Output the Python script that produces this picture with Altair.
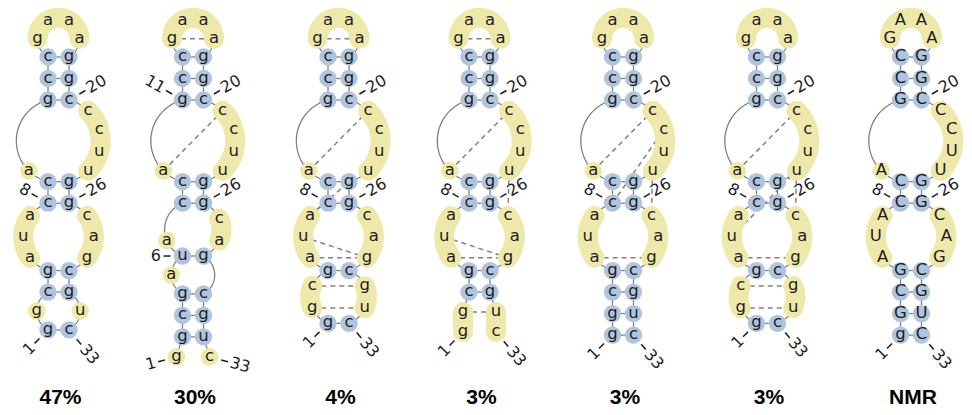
import math
import altair as alt
import pandas as pd

# 33-nt sequence; the NMR model is printed in upper case (first residue lower case)
SEQUENCE = "ggcgauaccagccgaaaggcccuuggcagcguc"
SEQUENCE_NMR = "gGCGAUACCAGCCGAAAGGCCCUUGGCAGCGUC"

CAPTIONS = ["47%", "30%", "4%", "3%", "3%", "3%", "NMR"]

# canonical base pairs of each model (1-based residue numbers)
PAIRS = [
    [(1, 33), (3, 31), (4, 30), (8, 26), (9, 25), (11, 20), (12, 19), (13, 18)],
    [(2, 32), (3, 31), (4, 30), (6, 29), (8, 26), (9, 25), (11, 20), (12, 19), (13, 18)],
    [(1, 33), (4, 30), (8, 26), (9, 25), (11, 20), (12, 19), (13, 18)],
    [(3, 31), (4, 30), (8, 26), (9, 25), (11, 20), (12, 19), (13, 18)],
    [(1, 33), (2, 32), (3, 31), (4, 30), (8, 26), (9, 25), (11, 20), (12, 19), (13, 18)],
    [(1, 33), (4, 30), (8, 26), (9, 25), (11, 20), (12, 19), (13, 18)],
    [(1, 33), (2, 32), (3, 31), (4, 30), (8, 26), (9, 25), (11, 20), (12, 19), (13, 18)],
]

# non-canonical contacts, drawn dashed
CONTACTS = [
    [],
    [(14, 17), (10, 21)],
    [(14, 17), (10, 21), (7, 25), (6, 29), (5, 29), (3, 31), (2, 32)],
    [(14, 17), (10, 21), (24, 27), (6, 29), (5, 29), (2, 32)],
    [(10, 21), (8, 22), (24, 27), (5, 29)],
    [(10, 21), (6, 24), (24, 27), (5, 29), (3, 31), (2, 32)],
    [],
]

# residues carrying a number
NUMBERED = [
    [1, 8, 20, 26, 33],
    [1, 6, 11, 20, 26, 33],
    [1, 8, 20, 26, 33],
    [1, 8, 20, 26, 33],
    [1, 8, 20, 26, 33],
    [1, 8, 20, 26, 33],
    [1, 8, 20, 26, 33],
]

# ---- drawing geometry (pixels) ----
W, H = 972, 415
PANEL_X = [58.5, 193.0, 338.5, 479.5, 623.0, 767.0, 911.0]
TOP_PAIR_Y = 57.0
STACK_RISE = 21.5
PAIR_WIDTH = 21.0
LOOP_STEP = 22.0
HAIRPIN_STEP = 21.0
TAIL_STEP = 20.0
TAIL_SHIFT = 6.0
CAPTION_Y = 398.0
CAPTION_SHIFT = 2.0
N = len(SEQUENCE)

BLUE = "#b0c4de"
YELLOW = "#eee8aa"
GREY = "#808080"
INK = "#1e1e1e"


def loop_radius(n_pair, n_step, step):
    lo, hi = 1.0, 1000.0
    for _ in range(200):
        r = 0.5 * (lo + hi)
        tot = (n_pair * 2 * math.asin(min(1.0, PAIR_WIDTH / (2 * r)))
               + n_step * 2 * math.asin(min(1.0, step / (2 * r))))
        if tot > 2 * math.pi:
            lo = r
        else:
            hi = r
    return 0.5 * (lo + hi)


def place(pairs, cx):
    """Stem-loop layout: stacked pairs, loops on circles, tails hanging down."""
    pairs = sorted(pairs)
    pos, loops = {}, []

    def put_loop(lx, ly, r, phis):
        for n, ph in phis.items():
            if n not in pos:
                pos[n] = (lx + r * math.sin(ph), ly - r * math.cos(ph))
        loops.append((lx, ly, r, phis))

    i, j = pairs[-1]
    pos[i] = (cx - PAIR_WIDTH / 2, TOP_PAIR_Y)
    pos[j] = (cx + PAIR_WIDTH / 2, TOP_PAIR_Y)
    h = j - i - 1
    r = loop_radius(1, h + 1, HAIRPIN_STEP)
    a = math.asin(PAIR_WIDTH / (2 * r))
    b = 2 * math.asin(HAIRPIN_STEP / (2 * r))
    phis = {i: -(math.pi - a), j: math.pi - a}
    for k in range(1, h + 1):
        phis[i + k] = -(math.pi - a) + k * b
    put_loop(cx, TOP_PAIR_Y - r * math.cos(a), r, phis)

    for (oi, oj), (ii, ij) in zip(pairs[-2::-1], pairs[:0:-1]):
        yin = pos[ii][1]
        nl, nr = ii - oi - 1, oj - ij - 1
        loop = None
        if nl == 0 and nr == 0:
            y = yin + STACK_RISE
        else:
            m = max(nl, nr)
            r = loop_radius(2, 2 * m + 2, LOOP_STEP)
            a = math.asin(PAIR_WIDTH / (2 * r))
            b = 2 * math.asin(LOOP_STEP / (2 * r))
            hh = r * math.cos(a)
            y = yin + 2 * hh
            phis = {ii: -a, ij: a, oi: -(math.pi - a), oj: math.pi - a}
            for k in range(1, nl + 1):
                phis[oi + k] = -(math.pi - a) + k * b
            for k in range(1, nr + 1):
                phis[ij + k] = a + k * b
            loop = (cx, yin + hh, r, phis)
        pos[oi] = (cx - PAIR_WIDTH / 2, y)
        pos[oj] = (cx + PAIR_WIDTH / 2, y)
        if loop:
            put_loop(*loop)

    oi, oj = pairs[0]
    x0, y0 = pos[oi]
    for k in range(1, oi):
        pos[oi - k] = (x0 - TAIL_SHIFT, y0 + k * TAIL_STEP)
    x1, y1 = pos[oj]
    for k in range(1, N - oj + 1):
        pos[oj + k] = (x1 + TAIL_SHIFT, y1 + k * TAIL_STEP)
    return pos, loops


def link(n, pos, loops):
    for lx, ly, r, phis in loops:
        if n in phis and n + 1 in phis:
            p0, p1 = phis[n], phis[n + 1]
            steps = max(2, int(abs(p1 - p0) / 0.04))
            return [(lx + r * math.sin(p0 + (p1 - p0) * t / steps),
                     ly - r * math.cos(p0 + (p1 - p0) * t / steps)) for t in range(steps + 1)]
    return [pos[n], pos[n + 1]]


backbone, bands, bonds, dashes, nodes, ticks, numbers, captions = ([] for _ in range(8))

for p, (pairs, contacts, numbered, caption, cx) in enumerate(
        zip(PAIRS, CONTACTS, NUMBERED, CAPTIONS, PANEL_X)):
    seq = SEQUENCE_NMR if caption == "NMR" else SEQUENCE
    pos, loops = place(pairs, cx)
    paired = {n for pr in pairs for n in pr}

    for n in range(1, N):
        path = link(n, pos, loops)
        for o, (x, y) in enumerate(path):
            backbone.append(dict(seg=f"{p}-{n}", o=o, x=x, y=y))
            if n not in paired and n + 1 not in paired:
                bands.append(dict(seg=f"{p}-{n}", o=o, x=x, y=y))

    for i, j in pairs:
        bonds.append(dict(x=pos[i][0], y=pos[i][1], x2=pos[j][0], y2=pos[j][1]))
    for i, j in contacts:
        dashes.append(dict(x=pos[i][0], y=pos[i][1], x2=pos[j][0], y2=pos[j][1]))

    for n in range(1, N + 1):
        nodes.append(dict(x=pos[n][0], y=pos[n][1], base=seq[n - 1],
                          kind="pair" if n in paired else "loose"))

    for n in numbered:
        x, y = pos[n]
        side = -1 if x < cx else 1
        if n in (1, N):
            nb = 2 if n == 1 else N - 1
            tilt = -15 if (n not in paired and nb in paired) else (-45 if n == 1 else -50)
        else:
            loose = sum(1 for nb in (n - 1, n + 1) if nb not in paired)
            tilt = 30 if (n in paired and loose == 1) else 0
        t = math.radians(tilt)
        ux, uy = side * math.cos(t), -math.sin(t)
        ticks.append(dict(x=x + ux * 12, y=y + uy * 12, x2=x + ux * 19, y2=y + uy * 19))
        numbers.append(dict(x=x + ux * 21.5, y=y + uy * 21.5, label=str(n),
                            side="right" if side > 0 else "left",
                            angle=(-tilt) % 360 if side > 0 else tilt % 360))

    captions.append(dict(x=cx + CAPTION_SHIFT, y=CAPTION_Y, label=caption))

xs = alt.Scale(domain=[0, W], nice=False, zero=False)
ys = alt.Scale(domain=[0, H], nice=False, zero=False, reverse=True)


def pt():
    return dict(x=alt.X("x:Q", scale=xs, axis=None), y=alt.Y("y:Q", scale=ys, axis=None))


def seg():
    return dict(pt(), x2=alt.X2("x2:Q"), y2=alt.Y2("y2:Q"))


bb_df, band_df = pd.DataFrame(backbone), pd.DataFrame(bands)
node_df = pd.DataFrame(nodes)
num_df = pd.DataFrame(numbers)

layers = [
    alt.Chart(bb_df).mark_line(color=GREY, strokeWidth=1.3).encode(
        **pt(), detail="seg:N", order="o:Q"),
    alt.Chart(pd.DataFrame(bonds)).mark_rule(color=GREY, strokeWidth=1.3).encode(**seg()),
    alt.Chart(pd.DataFrame(dashes)).mark_rule(
        color=GREY, strokeWidth=1.5, strokeDash=[5, 4]).encode(**seg()),
    alt.Chart(band_df).mark_line(color=YELLOW, strokeWidth=20, strokeCap="round",
                                 strokeJoin="round").encode(**pt(), detail="seg:N", order="o:Q"),
    alt.Chart(node_df).transform_filter(alt.datum.kind == "loose").mark_circle(
        size=310, color=YELLOW, opacity=1).encode(**pt()),
    alt.Chart(node_df).transform_filter(alt.datum.kind == "pair").mark_circle(
        size=300, color=BLUE, opacity=1).encode(**pt()),
    alt.Chart(node_df).mark_text(font="DejaVu Sans", fontSize=16.5, color=INK,
                                 baseline="middle", align="center", dy=-1).encode(
        **pt(), text="base:N"),
    alt.Chart(pd.DataFrame(ticks)).mark_rule(color=INK, strokeWidth=1.5).encode(**seg()),
    alt.Chart(num_df).transform_filter(alt.datum.side == "right").mark_text(
        font="DejaVu Sans", fontSize=16, color=INK, baseline="middle", align="left").encode(
        **pt(), text="label:N", angle=alt.Angle("angle:Q", scale=None)),
    alt.Chart(num_df).transform_filter(alt.datum.side == "left").mark_text(
        font="DejaVu Sans", fontSize=16, color=INK, baseline="middle", align="right").encode(
        **pt(), text="label:N", angle=alt.Angle("angle:Q", scale=None)),
    alt.Chart(pd.DataFrame(captions)).mark_text(
        font="Liberation Sans", fontSize=21, fontWeight="bold", color="#000000",
        baseline="middle", align="center").encode(**pt(), text="label:N"),
]

chart = alt.layer(*layers).properties(
    width=W, height=H, autosize="none", padding=0, background="white"
).configure_view(stroke=None)

chart.save("out.html", embed_options={"renderer": "svg", "actions": False})
